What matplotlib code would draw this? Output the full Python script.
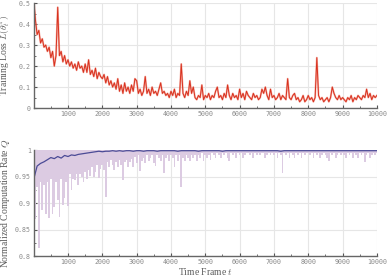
import numpy as np
import matplotlib
matplotlib.use("Agg")
import matplotlib.pyplot as plt
from matplotlib.ticker import MultipleLocator

# time grid (step 50 for loss / raw rate, step 100 for averaged rate)
t_fine = list(range(0, 10001, 50))
t_avg = list(range(0, 10001, 100))

loss = [
    0.52, 0.42, 0.35, 0.37, 0.31, 0.33, 0.29, 0.30, 0.27, 0.29, 0.24, 0.27, 0.20, 0.25, 0.48, 0.25, 0.27, 0.22, 0.25, 0.21,
    0.23, 0.20, 0.22, 0.19, 0.21, 0.18, 0.22, 0.19, 0.20, 0.17, 0.21, 0.17, 0.23, 0.16, 0.18, 0.15, 0.19, 0.14, 0.17, 0.15,
    0.14, 0.16, 0.12, 0.15, 0.11, 0.13, 0.10, 0.12, 0.09, 0.14, 0.08, 0.11, 0.07, 0.12, 0.08, 0.10, 0.07, 0.11, 0.08, 0.14,
    0.13, 0.07, 0.09, 0.06, 0.08, 0.15, 0.07, 0.09, 0.06, 0.10, 0.07, 0.08, 0.06, 0.09, 0.12, 0.07, 0.08, 0.06, 0.07, 0.05,
    0.08, 0.06, 0.09, 0.05, 0.07, 0.06, 0.21, 0.07, 0.05, 0.08, 0.06, 0.13, 0.07, 0.10, 0.05, 0.04, 0.06, 0.05, 0.11, 0.04,
    0.06, 0.05, 0.07, 0.04, 0.06, 0.05, 0.08, 0.10, 0.05, 0.06, 0.04, 0.07, 0.05, 0.11, 0.06, 0.04, 0.07, 0.05, 0.06, 0.04,
    0.09, 0.05, 0.07, 0.04, 0.08, 0.06, 0.05, 0.04, 0.07, 0.05, 0.06, 0.04, 0.05, 0.09, 0.07, 0.10, 0.06, 0.04, 0.09, 0.05,
    0.06, 0.04, 0.05, 0.07, 0.04, 0.06, 0.05, 0.04, 0.14, 0.05, 0.04, 0.06, 0.07, 0.04, 0.05, 0.03, 0.04, 0.06, 0.03, 0.04,
    0.06, 0.04, 0.05, 0.03, 0.05, 0.24, 0.06, 0.04, 0.05, 0.03, 0.04, 0.05, 0.03, 0.05, 0.10, 0.07, 0.05, 0.04, 0.06, 0.04,
    0.05, 0.04, 0.03, 0.05, 0.04, 0.06, 0.03, 0.05, 0.04, 0.06, 0.05, 0.04, 0.06, 0.05, 0.09, 0.05, 0.07, 0.04, 0.06, 0.05, 0.06,
]

rate_raw = [
    0.80, 0.87, 0.93, 0.815, 0.94, 0.887, 0.935, 0.88, 0.94, 0.871, 0.945, 0.88, 0.893, 0.94, 0.905, 0.874, 0.945, 0.896, 0.909, 0.94,
    0.894, 0.955, 0.925, 0.945, 0.943, 0.955, 0.934, 0.955, 0.95, 0.94, 0.958, 0.945, 0.962, 0.952, 0.968, 0.95, 0.958, 0.972, 0.948, 0.965,
    0.972, 0.962, 0.912, 0.978, 0.968, 0.982, 0.972, 0.962, 0.978, 0.968, 0.982, 0.972, 0.943, 0.978, 0.982, 0.969, 0.978, 0.983, 0.968, 0.988,
    0.975, 0.99, 0.96, 0.98, 0.985, 0.975, 0.99, 0.98, 0.985, 0.99, 0.975, 0.97, 0.99, 0.985, 0.98, 0.99, 0.957, 0.985, 0.99, 0.98,
    0.99, 0.985, 0.968, 0.99, 0.98, 0.99, 0.93, 0.985, 0.98, 0.99, 0.985, 0.98, 0.99, 0.985, 0.99, 0.98, 0.99, 0.985, 0.995, 0.98,
    0.99, 0.985, 0.99, 0.982, 0.995, 0.99, 0.985, 0.995, 0.99, 0.985, 0.995, 0.99, 0.995, 0.985, 0.979, 0.995, 0.99, 0.995, 0.985, 0.995,
    0.99, 0.995, 0.985, 0.99, 0.995, 0.995, 0.99, 0.995, 0.985, 0.995, 0.99, 0.995, 0.99, 0.995, 0.995, 0.985, 0.99, 0.995, 0.99, 0.995,
    0.99, 0.995, 0.985, 0.995, 0.99, 0.957, 0.995, 0.99, 0.995, 0.985, 0.995, 0.99, 0.985, 0.995, 0.99, 0.995, 0.985, 0.995, 0.99, 0.995,
    0.995, 0.99, 0.995, 0.985, 0.995, 0.99, 0.995, 0.985, 0.99, 0.995, 0.99, 0.985, 0.98, 0.995, 0.99, 0.995, 0.985, 0.99, 0.995, 0.99,
    0.995, 0.99, 0.985, 0.995, 0.99, 0.995, 0.985, 0.995, 0.99, 0.985, 0.995, 0.99, 0.995, 0.978, 0.99, 0.995, 0.985, 0.99, 0.995, 0.99, 0.995,
]

rate_avg = [
    0.945, 0.970, 0.975, 0.978, 0.982, 0.986, 0.984, 0.988, 0.985, 0.990,
    0.988, 0.991, 0.990, 0.992, 0.993, 0.994, 0.995, 0.996, 0.997, 0.998,
    0.997, 0.998, 0.998, 0.999, 0.998, 0.999, 0.998, 0.999, 0.999, 0.998,
    0.999, 0.999, 0.998, 0.999, 0.999, 0.999, 0.998, 0.999, 0.999, 0.999,
    0.999, 0.999, 0.998, 0.999, 0.999, 0.999, 0.999, 0.999, 0.998, 0.999,
    0.999, 0.999, 0.999, 0.999, 0.999, 0.998, 0.999, 0.999, 0.999, 0.999,
    0.999, 0.999, 0.999, 0.999, 0.999, 0.999, 0.999, 0.999, 0.999, 0.999,
    0.999, 0.999, 0.998, 0.999, 0.999, 0.999, 0.999, 0.999, 0.999, 0.999,
    0.999, 0.999, 0.999, 0.999, 0.999, 0.999, 0.999, 0.999, 0.999, 0.999,
    0.999, 0.999, 0.999, 0.999, 0.999, 0.999, 0.999, 0.999, 0.999, 0.999, 0.999,
]

x_ticks = [1000, 2000, 3000, 4000, 5000, 6000, 7000, 8000, 9000, 10000]
loss_ticks = [0, 0.1, 0.2, 0.3, 0.4, 0.5]
loss_ticklabels = ["0", "0.1", "0.2", "0.3", "0.4", "0.5"]
rate_ticks = [0.8, 0.85, 0.9, 0.95, 1.0]
rate_ticklabels = ["0.8", "0.85", "0.9", "0.95", "1"]

plt.rcParams["mathtext.fontset"] = "cm"
label_font = dict(family="Liberation Serif", size=6.9, color="#5a5a5a")
tick_family = "DejaVu Sans Mono"
tick_size = 4.8

fig = plt.figure(figsize=(3.9, 2.8), dpi=100)
ax1 = fig.add_axes([0.0864, 0.614, 0.880, 0.375])
ax2 = fig.add_axes([0.0864, 0.0857, 0.880, 0.378])


def style(ax, yminor):
    for s in ["top", "right"]:
        ax.spines[s].set_visible(False)
    for s in ["left", "bottom"]:
        ax.spines[s].set_color("#666666")
        ax.spines[s].set_linewidth(1.0)
    ax.grid(True, which="major", color="#e6e6e6", lw=0.8)
    ax.set_axisbelow(True)
    ax.yaxis.set_minor_locator(MultipleLocator(yminor))
    ax.xaxis.set_minor_locator(MultipleLocator(500))
    ax.tick_params(which="major", direction="in", length=2.5, width=0.8,
                   color="#555555", labelcolor="#8a8a8a", pad=2.0)
    ax.tick_params(which="minor", direction="in", length=1.5, width=0.6,
                   color="#555555")
    for lab in ax.get_xticklabels() + ax.get_yticklabels():
        lab.set_fontfamily(tick_family)
        lab.set_fontsize(tick_size)


# top: training loss
ax1.plot(t_fine, loss, color="#f08070", lw=1.4, alpha=0.6)
ax1.plot(t_fine, loss, color="#d8321f", lw=0.7)
ax1.set_xlim(0, 10000)
ax1.set_ylim(0, 0.5)
ax1.set_xticks(x_ticks)
ax1.set_yticks(loss_ticks)
ax1.set_yticklabels(loss_ticklabels)
style(ax1, 0.05)
ax1.set_ylabel(r"Training Loss $L(\theta_t^\pi)$", **label_font)
ax1.yaxis.set_label_coords(-0.063, 0.5)

# bottom: computation rate
ax2.fill_between(t_fine, rate_raw, 1.0, step="mid", color="#dccbe2", lw=0)
ax2.plot(t_avg, rate_avg, color="#4b4b96", lw=0.9)
ax2.set_xlim(0, 10000)
ax2.set_ylim(0.8, 1.0)
ax2.set_xticks(x_ticks)
ax2.set_yticks(rate_ticks)
ax2.set_yticklabels(rate_ticklabels)
style(ax2, 0.025)
ax2.set_ylabel(r"Normalized Computation Rate $Q$", **label_font)
ax2.yaxis.set_label_coords(-0.063, 0.5)
ax2.set_xlabel(r"Time Frame $t$", labelpad=1, **label_font)

fig.savefig("out.png", dpi=100)
